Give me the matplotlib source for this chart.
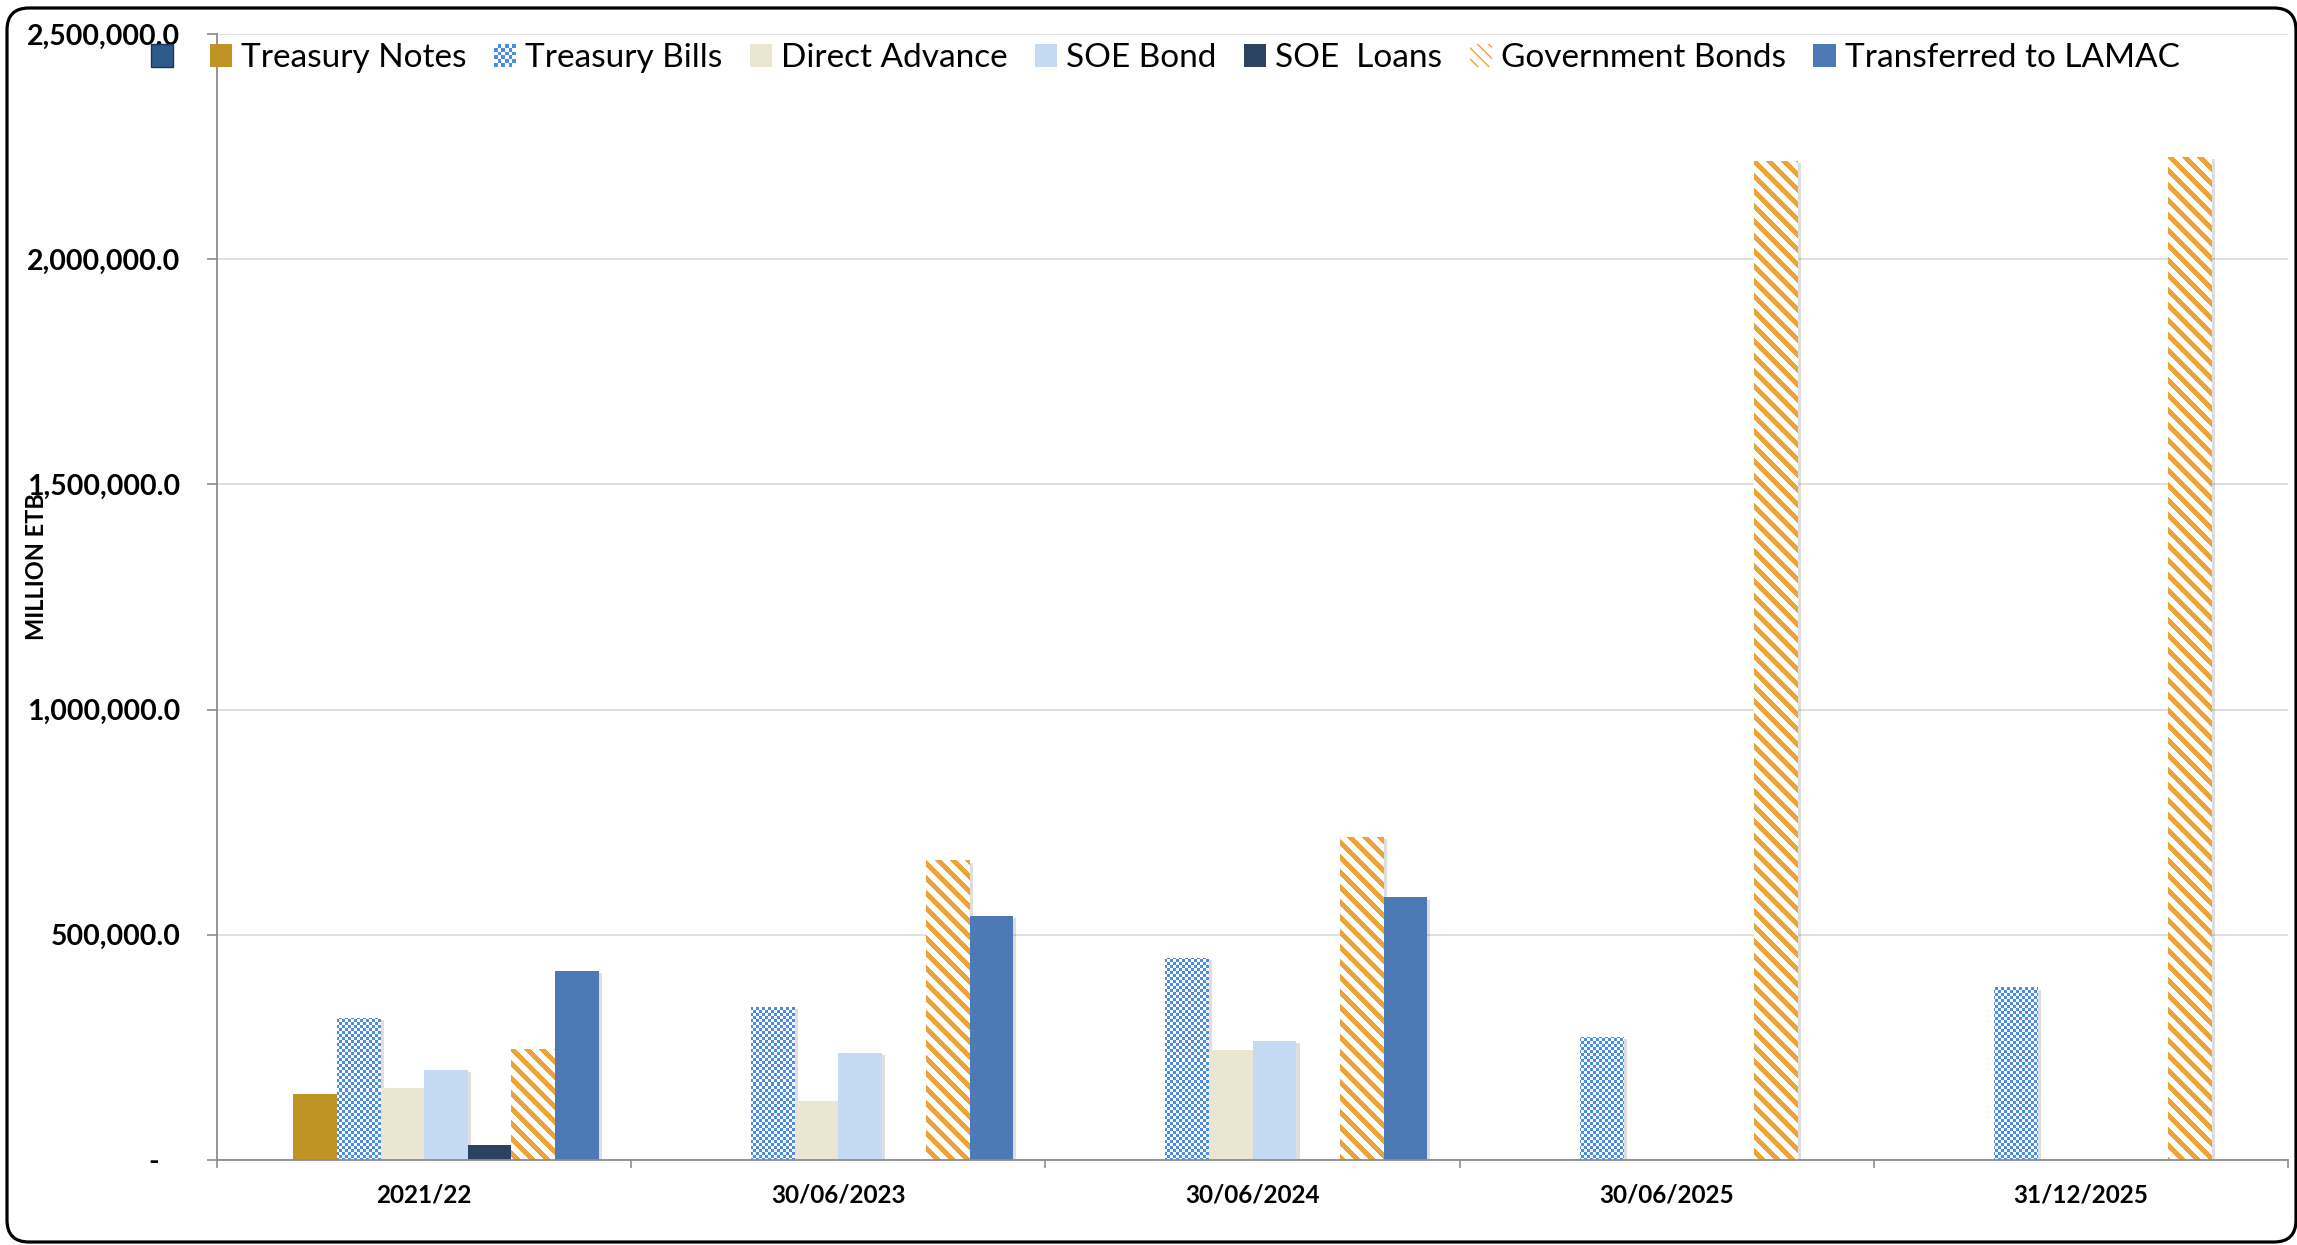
import numpy as np
import matplotlib
matplotlib.use("Agg")
import matplotlib.pyplot as plt
import matplotlib.patheffects as pe
from matplotlib.patches import Patch, Rectangle, FancyBboxPatch
from matplotlib.legend_handler import HandlerBase
from matplotlib.colors import to_rgb
from matplotlib.transforms import IdentityTransform
from matplotlib.ticker import FuncFormatter

plt.rcParams['font.family'] = ['Lato', 'DejaVu Sans']

# ---- data (million ETB) ----
categories = ['2021/22', '30/06/2023', '30/06/2024', '30/06/2025', '31/12/2025']
series_names = ['', 'Treasury Notes', 'Treasury Bills', 'Direct Advance', 'SOE Bond',
                'SOE  Loans', 'Government Bonds', 'Transferred to LAMAC']
blank_series = [np.nan, np.nan, np.nan, np.nan, np.nan]
treasury_notes = [147000, np.nan, np.nan, np.nan, np.nan]
treasury_bills = [316000, 340000, 449000, 273000, 383000]
direct_advance = [160000, 130000, 244000, np.nan, np.nan]
soe_bond = [200000, 237000, 265000, np.nan, np.nan]
soe_loans = [33000, np.nan, np.nan, np.nan, np.nan]
government_bonds = [246000, 665000, 717000, 2218000, 2226000]
transferred_lamac = [420000, 541000, 583000, np.nan, np.nan]
y_ticks = [0, 500000, 1000000, 1500000, 2000000, 2500000]

all_series = [blank_series, treasury_notes, treasury_bills, direct_advance, soe_bond,
              soe_loans, government_bonds, transferred_lamac]
colors = ['#2F5A8C', '#C09424', '#4A8CE6', '#EBE6D1', '#C4DAF2', '#2B4260', '#EBA43A', '#4D7AB5']
textures = [None, None, 'checker', None, None, None, 'stripes', None]

W_PX, H_PX, DPI = 2297, 1245, 100
fig = plt.figure(figsize=(W_PX / DPI, H_PX / DPI), dpi=DPI)
fig.patch.set_facecolor('white')

left, right, top, bottom = 217, 2288, 34, 1160
ax = fig.add_axes([left / W_PX, 1 - bottom / H_PX, (right - left) / W_PX, (bottom - top) / H_PX])

n_series = len(all_series)
bar_w = 1.0 / (n_series + 1.5)
x = np.arange(len(categories))

ax.set_xlim(-0.5, len(categories) - 0.5)
ax.set_ylim(0, 2500000)
ax.set_axisbelow(True)

shadow = [pe.SimplePatchShadow(offset=(2.5, -1.5), shadow_rgbFace='black', alpha=0.13), pe.Normal()]


def texture_image(bar, kind, color):
    bb = bar.get_window_extent()
    w = int(round(bb.x1 - bb.x0))
    h = int(round(bb.y1 - bb.y0))
    if w < 1 or h < 1:
        return
    fig_h = fig.bbox.height
    xs = np.arange(w) + int(round(bb.x0))
    ys = np.arange(h) + int(round(fig_h - bb.y1))
    X, Y = np.meshgrid(xs, ys)
    if kind == 'checker':
        mask = ((X // 3 + Y // 3) % 2) == 0
    else:
        mask = ((X - Y) % 15) < 7
    img = np.ones((h, w, 3))
    img[mask] = to_rgb(color)
    bx, by = bar.get_x(), bar.get_y()
    im = ax.imshow(img, extent=(bx, bx + bar.get_width(), by, by + bar.get_height()),
                   origin='upper', interpolation='nearest', aspect='auto',
                   zorder=bar.get_zorder() + 0.1)
    im.set_clip_path(bar)


for k, (vals, col, tex) in enumerate(zip(all_series, colors, textures)):
    vals = np.asarray(vals, dtype=float)
    ok = ~np.isnan(vals)
    if not ok.any():
        continue
    xpos = x[ok] + (k - (n_series - 1) / 2) * bar_w
    face = 'white' if tex else col
    bars = ax.bar(xpos, vals[ok], width=bar_w, color=face, edgecolor='none',
                  zorder=2, path_effects=shadow)
    if tex:
        for b in bars:
            texture_image(b, tex, col)

ax.set_xlim(-0.5, len(categories) - 0.5)
ax.set_ylim(0, 2500000)

# axes styling
for s in ['top', 'right']:
    ax.spines[s].set_visible(False)
for s in ['left', 'bottom']:
    ax.spines[s].set_color('#8C8C8C')
    ax.spines[s].set_linewidth(1.3)
    ax.spines[s].set_zorder(3)

ax.set_yticks(y_ticks)
ax.yaxis.set_major_formatter(FuncFormatter(lambda v, p: '-   ' if v == 0 else f'{v:,.1f}'))
ax.grid(axis='y', color='#D9D9D9', linewidth=1.2)
ax.tick_params(axis='y', length=7, width=1.2, color='#8C8C8C', pad=19.5,
               labelsize=20.5)
for lab in ax.get_yticklabels():
    lab.set_fontweight('bold')

ax.set_xticks(x)
ax.set_xticklabels(categories, fontsize=17.5, fontweight='bold')
ax.tick_params(axis='x', which='major', length=0, pad=17)
ax.set_xticks(np.arange(-0.5, len(categories)), minor=True)
ax.tick_params(axis='x', which='minor', length=6, width=1.2, color='#8C8C8C')

fig.text(37 / W_PX, 1 - 567 / H_PX, 'MILLION ETB', rotation=90, ha='center', va='center',
         fontsize=17, fontweight='bold')


class CheckerHandler(HandlerBase):
    def create_artists(self, legend, orig_handle, xdescent, ydescent, width, height,
                       fontsize, trans):
        n = 6
        cw, ch = width / n, height / n
        out = []
        for i in range(n):
            for j in range(n):
                fc = orig_handle.get_facecolor() if (i + j) % 2 == 0 else 'white'
                out.append(Rectangle((-xdescent + i * cw, -ydescent + j * ch), cw, ch,
                                     facecolor=fc, edgecolor='none', transform=trans))
        return out


handles = []
for name, col, tex in zip(series_names, colors, textures):
    if tex == 'stripes':
        handles.append(Patch(facecolor='white', edgecolor=col, hatch='\\\\\\', linewidth=0))
    elif name == '':
        handles.append(Patch(facecolor=col, edgecolor='#1B3557', linewidth=1.0))
    else:
        handles.append(Patch(facecolor=col, edgecolor='none'))

leg = ax.legend(handles, series_names, ncol=n_series, loc='center left',
                bbox_to_anchor=(151 / W_PX, 1 - 58 / H_PX), bbox_transform=fig.transFigure,
                frameon=False, fontsize=24, handlelength=0.67, handleheight=0.67,
                handletextpad=0.27, columnspacing=0.82, borderpad=0, borderaxespad=0,
                handler_map={handles[2]: CheckerHandler()})

# rounded chart frame
frame = FancyBboxPatch((7, 3), 2296 - 7, 1237 - 3,
                       boxstyle='round,pad=0,rounding_size=22',
                       transform=IdentityTransform(), facecolor='none',
                       edgecolor='black', linewidth=2.3)
fig.add_artist(frame)

fig.savefig('out.png', dpi=DPI, facecolor='white')
